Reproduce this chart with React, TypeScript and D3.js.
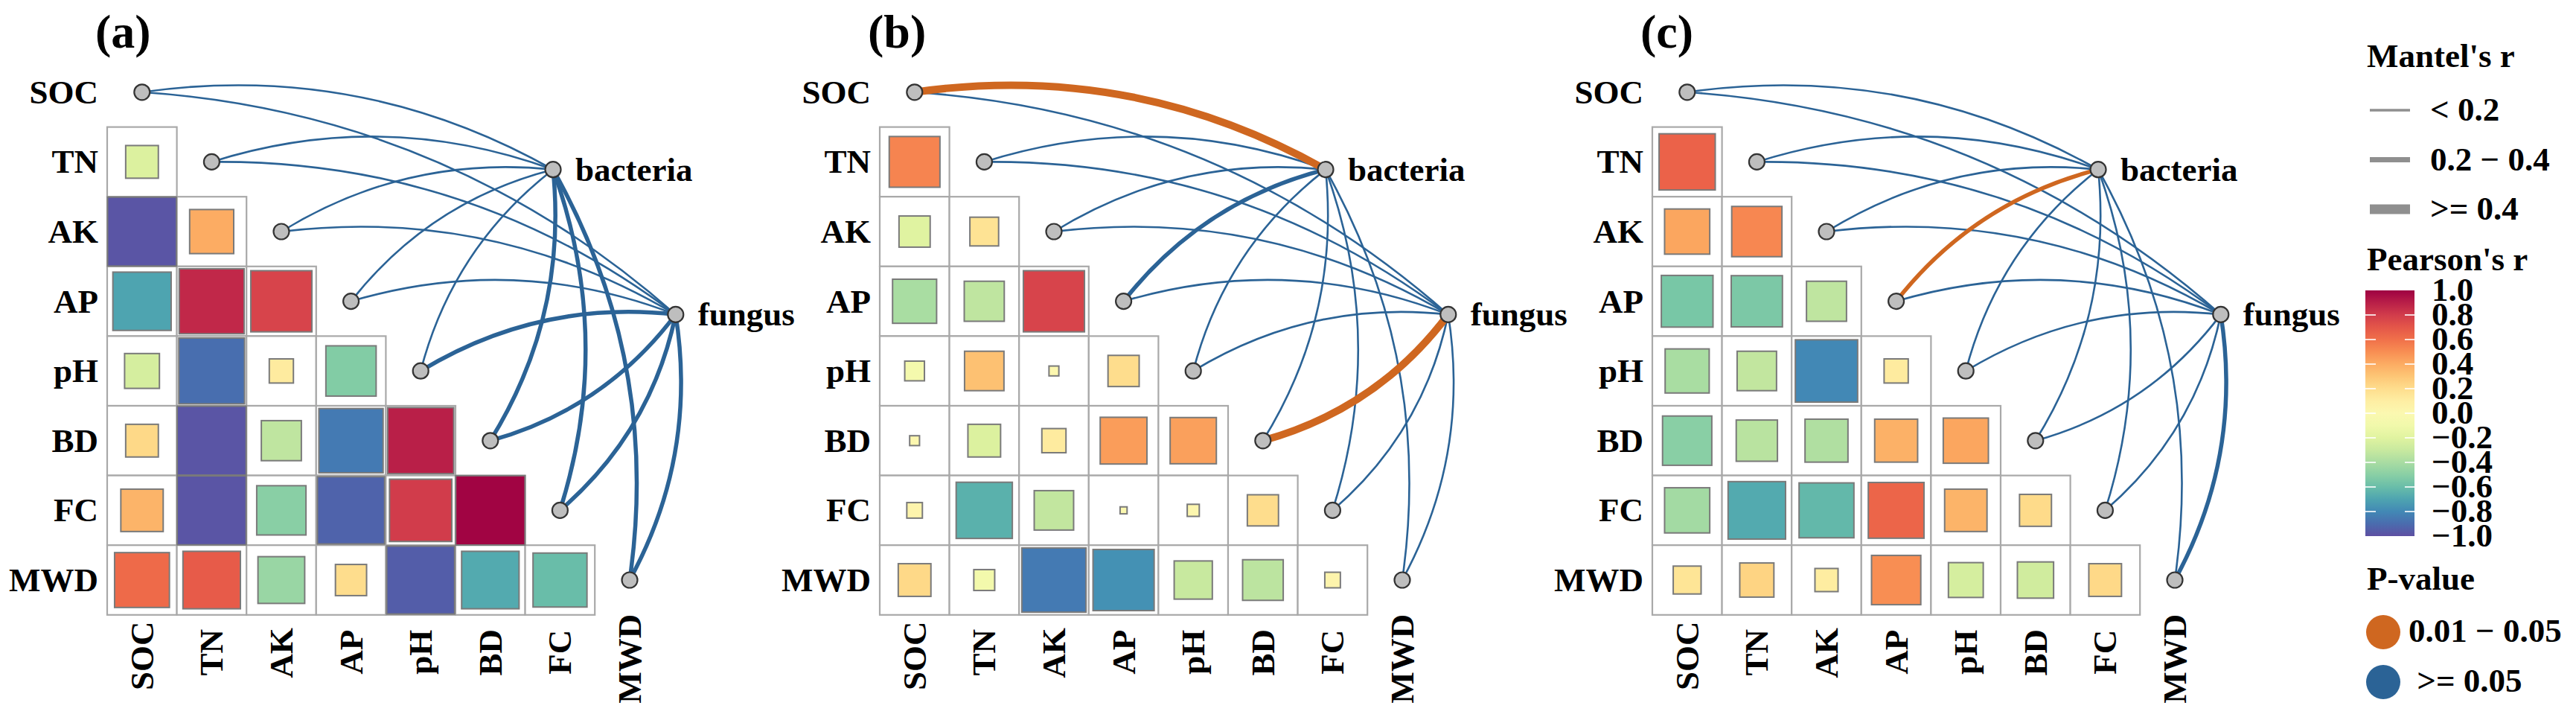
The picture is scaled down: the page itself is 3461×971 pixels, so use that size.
import React, { useEffect, useRef } from 'react';
import * as d3 from 'd3';

// variables of the matrix (rows, columns and the diagonal nodes)
const variables = ['SOC', 'TN', 'AK', 'AP', 'pH', 'BD', 'FC', 'MWD'];
const panelTags = ['(a)', '(b)', '(c)'];
const speciesNames = ['bacteria', 'fungus'];

// Pearson's r, lower triangle: row k is variables[k + 1] against variables[0..k]
const pearsonA = [
  [-0.22],
  [-0.98, 0.4],
  [-0.7, 0.87, 0.77],
  [-0.25, -0.89, 0.12, -0.52],
  [0.22, -0.98, -0.33, -0.85, 0.9],
  [0.37, -0.98, -0.5, -0.93, 0.8, 0.99],
  [0.62, 0.68, -0.45, 0.2, -0.95, -0.68, -0.6],
];
const pearsonB = [
  [0.53],
  [-0.2, 0.17],
  [-0.4, -0.33, 0.77],
  [-0.08, 0.32, 0.02, 0.2],
  [0.02, -0.22, 0.12, 0.45, 0.44],
  [0.05, -0.65, -0.32, 0.01, 0.03, 0.2],
  [0.22, -0.09, -0.85, -0.77, -0.3, -0.34, 0.05],
];
const pearsonC = [
  [0.65],
  [0.42, 0.52],
  [-0.55, -0.54, -0.33],
  [-0.4, -0.32, -0.8, 0.12],
  [-0.5, -0.35, -0.38, 0.38, 0.42],
  [-0.42, -0.68, -0.62, 0.64, 0.37, 0.21],
  [0.16, 0.24, 0.11, 0.5, -0.25, -0.27, 0.22],
];

// Mantel's r / p of each species (bacteria, fungus) against every variable
const mantelRA = [
  [0.12, 0.1, 0.11, 0.13, 0.15, 0.32, 0.3, 0.28],
  [0.1, 0.12, 0.09, 0.14, 0.33, 0.31, 0.27, 0.29],
];
const mantelPA = [
  [0.31, 0.42, 0.36, 0.22, 0.18, 0.07, 0.09, 0.11],
  [0.45, 0.38, 0.52, 0.27, 0.08, 0.06, 0.1, 0.12],
];
const mantelRB = [
  [0.45, 0.12, 0.1, 0.3, 0.14, 0.11, 0.09, 0.13],
  [0.1, 0.13, 0.12, 0.15, 0.11, 0.46, 0.1, 0.12],
];
const mantelPB = [
  [0.03, 0.4, 0.33, 0.08, 0.25, 0.3, 0.41, 0.36],
  [0.39, 0.28, 0.44, 0.21, 0.35, 0.02, 0.3, 0.27],
];
const mantelRC = [
  [0.11, 0.12, 0.1, 0.28, 0.13, 0.09, 0.12, 0.14],
  [0.13, 0.1, 0.12, 0.11, 0.15, 0.14, 0.1, 0.31],
];
const mantelPC = [
  [0.33, 0.29, 0.46, 0.04, 0.22, 0.38, 0.31, 0.26],
  [0.27, 0.41, 0.35, 0.3, 0.19, 0.24, 0.4, 0.07],
];

const pearsonTicks = [1, 0.8, 0.6, 0.4, 0.2, 0, -0.2, -0.4, -0.6, -0.8, -1];
const mantelLabels = ['< 0.2', '0.2 \u2212 0.4', '>= 0.4'];
const mantelKeyValues = [0.1, 0.3, 0.5];
const pLabels = ['0.01 \u2212 0.05', '\u00a0>= 0.05'];
const pKeyValues = [0.03, 0.2];

const panels = [
  { pearson: pearsonA, r: mantelRA, p: mantelPA },
  { pearson: pearsonB, r: mantelRB, p: mantelPB },
  { pearson: pearsonC, r: mantelRC, p: mantelPC },
];

const W = 3461;
const H = 971;
const cell = 93.6;
const panelLeft = [144, 1182, 2220];
const gridTop = 77;
// species nodes in grid units
const speciesPos = [
  [6.4, 1.61],
  [8.16, 3.69],
];
const font = '"Liberation Serif", "Times New Roman", serif';

function App() {
  const svgRef = useRef<SVGSVGElement>(null);

  useEffect(() => {
    document.body.style.margin = '0';
    const svg = d3.select(svgRef.current);
    svg.selectAll('*').remove();
    svg.append('rect').attr('width', W).attr('height', H).attr('fill', '#fff');

    const fill = d3.scaleSequential(d3.interpolateSpectral).domain([1, -1]);
    const lineW = d3.scaleThreshold<number, number>().domain([0.2, 0.4]).range([2.6, 5.5, 10]);
    const pCol = d3.scaleThreshold<number, string>().domain([0.05]).range(['#cf6720', '#2b6396']);

    panels.forEach((pan, pi) => {
      const left = panelLeft[pi];
      const x = d3.scaleLinear().domain([0, 8]).range([left, left + 8 * cell]);
      const y = d3.scaleLinear().domain([0, 8]).range([gridTop, gridTop + 8 * cell]);
      const g = svg.append('g').attr('font-family', font).attr('font-weight', 'bold');

      // tag
      g.append('text')
        .attr('x', left - 16)
        .attr('y', 64)
        .attr('font-size', 64)
        .text(panelTags[pi]);

      // matrix cells
      const cells: { i: number; j: number; r: number }[] = [];
      pan.pearson.forEach((row, k) => row.forEach((r, j) => cells.push({ i: k + 1, j, r })));

      g.selectAll('.cell')
        .data(cells)
        .join('rect')
        .attr('x', (d) => x(d.j))
        .attr('y', (d) => y(d.i))
        .attr('width', cell)
        .attr('height', cell)
        .attr('fill', '#fff')
        .attr('stroke', '#a9a9a9')
        .attr('stroke-width', 2.2);

      g.selectAll('.sq')
        .data(cells)
        .join('rect')
        .each(function (d) {
          const s = cell * Math.sqrt(Math.abs(d.r));
          d3.select(this)
            .attr('x', x(d.j + 0.5) - s / 2)
            .attr('y', y(d.i + 0.5) - s / 2)
            .attr('width', s)
            .attr('height', s);
        })
        .attr('fill', (d) => fill(d.r))
        .attr('stroke', '#7a7a7a')
        .attr('stroke-width', 2);

      // mantel links
      const links: any[] = [];
      speciesNames.forEach((sp, si) => {
        variables.forEach((v, vi) => {
          links.push({ si, vi, r: pan.r[si][vi], p: pan.p[si][vi] });
        });
      });
      links.sort((a, b) => a.r - b.r);

      g.selectAll('.link')
        .data(links)
        .join('path')
        .attr('d', (d) => {
          const sx = x(speciesPos[d.si][0]);
          const sy = y(speciesPos[d.si][1]);
          const tx = x(d.vi + 0.5);
          const ty = y(d.vi + 0.5);
          const sign = d.vi < 5 ? 1 : -1;
          const k = 0.17 * sign;
          const p = d3.path();
          p.moveTo(sx, sy);
          p.quadraticCurveTo((sx + tx) / 2 - k * (ty - sy), (sy + ty) / 2 + k * (tx - sx), tx, ty);
          return p.toString();
        })
        .attr('fill', 'none')
        .attr('stroke', (d) => pCol(d.p))
        .attr('stroke-width', (d) => lineW(d.r));

      // nodes
      const nodes = [
        ...variables.map((v, i) => [x(i + 0.5), y(i + 0.5)]),
        ...speciesPos.map((s) => [x(s[0]), y(s[1])]),
      ];
      g.selectAll('.node')
        .data(nodes)
        .join('circle')
        .attr('cx', (d) => d[0])
        .attr('cy', (d) => d[1])
        .attr('r', 10.5)
        .attr('fill', '#bebebe')
        .attr('stroke', '#333')
        .attr('stroke-width', 2.2);

      // species labels
      g.selectAll('.sp')
        .data(speciesNames)
        .join('text')
        .attr('x', (d, i) => x(speciesPos[i][0]) + 30)
        .attr('y', (d, i) => y(speciesPos[i][1]) + 15)
        .attr('font-size', 45)
        .text((d) => d);

      // row labels
      g.selectAll('.rowlab')
        .data(variables)
        .join('text')
        .attr('x', left - 12)
        .attr('y', (d, i) => y(i + 0.5) + 15)
        .attr('text-anchor', 'end')
        .attr('font-size', 45)
        .text((d) => d);

      // column labels, rotated, anchored at 65% of their length
      g.selectAll('.collab')
        .data(variables)
        .join('text')
        .attr('text-anchor', 'start')
        .attr('font-size', 45)
        .text((d) => d)
        .each(function (d, i) {
          const len = (this as SVGTextElement).getComputedTextLength();
          const yBottom = y(8) + 41 + 0.65 * len;
          d3.select(this).attr('transform', `translate(${x(i + 0.5) + 15},${yBottom}) rotate(-90)`);
        });
    });

    // legend
    const lg = svg.append('g').attr('font-family', font).attr('font-weight', 'bold').attr('font-size', 45);
    const lx = 3180;

    lg.append('text').attr('x', lx).attr('y', 90).text("Mantel's r");
    const keyW = d3.scaleThreshold<number, number>().domain([0.2, 0.4]).range([3.5, 7, 13]);
    const keyY = d3.scaleLinear().domain([0, 1]).range([148, 214.5]);
    mantelLabels.forEach((lab, i) => {
      lg.append('line')
        .attr('x1', 3184)
        .attr('x2', 3238)
        .attr('y1', keyY(i))
        .attr('y2', keyY(i))
        .attr('stroke', '#8f8f8f')
        .attr('stroke-width', keyW(mantelKeyValues[i]));
      lg.append('text').attr('x', 3265).attr('y', keyY(i) + 14).text(lab);
    });

    lg.append('text').attr('x', lx).attr('y', 363).text("Pearson's r");
    const cb = d3.scaleLinear().domain([1, -1]).range([390, 720]);
    const defs = svg.append('defs');
    const grad = defs
      .append('linearGradient')
      .attr('id', 'cbar')
      .attr('x1', 0)
      .attr('x2', 0)
      .attr('y1', 0)
      .attr('y2', 1);
    d3.range(0, 1.0001, 0.05).forEach((t) => {
      grad.append('stop').attr('offset', t).attr('stop-color', d3.interpolateSpectral(t));
    });
    const cbx0 = 3178;
    const cbx1 = 3244;
    lg.append('rect')
      .attr('x', cbx0)
      .attr('y', cb(1))
      .attr('width', cbx1 - cbx0)
      .attr('height', cb(-1) - cb(1))
      .attr('fill', 'url(#cbar)');
    pearsonTicks.forEach((v) => {
      if (Math.abs(v) < 1) {
        lg.append('line')
          .attr('x1', cbx0)
          .attr('x2', cbx0 + 14)
          .attr('y1', cb(v))
          .attr('y2', cb(v))
          .attr('stroke', '#fff')
          .attr('stroke-width', 1.6);
        lg.append('line')
          .attr('x1', cbx1 - 13)
          .attr('x2', cbx1)
          .attr('y1', cb(v))
          .attr('y2', cb(v))
          .attr('stroke', '#fff')
          .attr('stroke-width', 1.6);
      }
      lg.append('text')
        .attr('x', 3267)
        .attr('y', cb(v) + 14)
        .text(d3.format('.1f')(v));
    });

    lg.append('text').attr('x', lx).attr('y', 792).text('P-value');
    const pY = d3.scaleLinear().domain([0, 1]).range([849, 916]);
    const pColLegend = d3.scaleThreshold<number, string>().domain([0.05]).range(['#cf6720', '#2b6396']);
    pLabels.forEach((lab, i) => {
      lg.append('circle')
        .attr('cx', 3202)
        .attr('cy', pY(i))
        .attr('r', 23)
        .attr('fill', pColLegend(pKeyValues[i]));
      lg.append('text').attr('x', 3236).attr('y', pY(i) + 13).text(lab);
    });
  }, []);

  return <svg ref={svgRef} width={W} height={H} style={{ display: 'block' }} />;
}

export default App;
